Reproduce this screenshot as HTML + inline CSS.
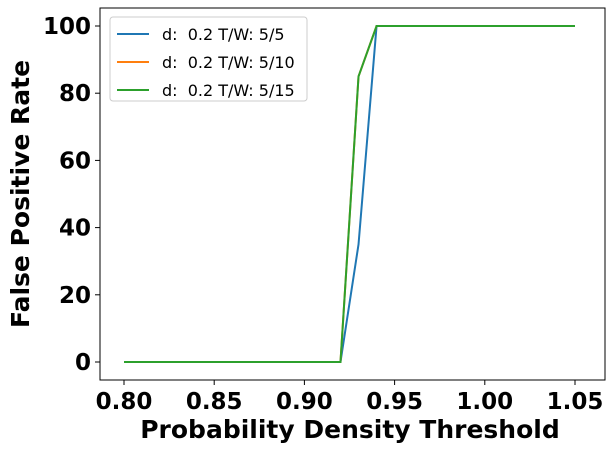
<!DOCTYPE html>
<html><head><meta charset="utf-8"><style>
body{margin:0;background:#fff;font-family:"DejaVu Sans","Liberation Sans",sans-serif}
text{white-space:pre}
</style></head><body>
<svg id="chart" width="616" height="452" xmlns="http://www.w3.org/2000/svg">
<rect x="100" y="8" width="505" height="372" fill="none" stroke="#000" stroke-width="1"/>
<g id="ticks"></g>
<g id="lines"></g>
<text x="350" y="438" text-anchor="middle" font-weight="bold" font-size="25">Probability Density Threshold</text>
<text transform="translate(29,194) rotate(-90)" text-anchor="middle" font-weight="bold" font-size="25">False Positive Rate</text>
<g id="legend">
<rect x="110" y="17" width="197" height="84" rx="3" fill="#fff" fill-opacity="0.8" stroke="#ccc"/>
</g>
</svg>
<script>
const xValues=[0.80,0.81,0.82,0.83,0.84,0.85,0.86,0.87,0.88,0.89,0.90,0.91,0.92,0.93,0.94,0.95,0.96,0.97,0.98,0.99,1.00,1.01,1.02,1.03,1.04,1.05];
const series5=[0,0,0,0,0,0,0,0,0,0,0,0,0,35,100,100,100,100,100,100,100,100,100,100,100,100];
const series10=[0,0,0,0,0,0,0,0,0,0,0,0,0,85,100,100,100,100,100,100,100,100,100,100,100,100];
const series15=[0,0,0,0,0,0,0,0,0,0,0,0,0,85,100,100,100,100,100,100,100,100,100,100,100,100];
const seriesNames=["d:  0.2 T/W: 5/5","d:  0.2 T/W: 5/10","d:  0.2 T/W: 5/15"];
const xTicks=[0.80,0.85,0.90,0.95,1.00,1.05];
const yTicks=[0,20,40,60,80,100];
const NS="http://www.w3.org/2000/svg";
const xs=v=>124+(v-0.80)/0.25*451;
const ys=v=>362-v*3.36;
const colors=["#1f77b4","#ff7f0e","#2ca02c"];
const tg=document.getElementById('ticks');
function mk(t,a,p){const e=document.createElementNS(NS,t);for(const k in a)e.setAttribute(k,a[k]);p.appendChild(e);return e;}
xTicks.forEach(v=>{
 const l=mk('line',{x1:xs(v),x2:xs(v),y1:380,y2:385,stroke:'#000'},tg);
 
 
 const t=mk('text',{x:xs(v),y:409,'text-anchor':'middle','font-size':23,'font-weight':'bold'},tg);
 t.textContent=v.toFixed(2);
 
 
});
yTicks.forEach(v=>{
 const l=mk('line',{x1:95,x2:100,y1:ys(v),y2:ys(v),stroke:'#000'},tg);
 
 
 const t=mk('text',{x:91,y:ys(v)+8,'text-anchor':'end','font-size':23,'font-weight':'bold'},tg);
 t.textContent=v;
 
 
});
const lg=document.getElementById('lines');
[series5,series10,series15].forEach((s,i)=>{
 const p=mk('polyline',{points:s.map((v,j)=>xs(xValues[j])+','+ys(v)).join(' '),fill:'none',stroke:colors[i],'stroke-width':2},lg);
 
 
});
const leg=document.getElementById('legend');
seriesNames.forEach((n,i)=>{
 const y=34+i*28;
 const l=mk('line',{x1:117,x2:149,y1:y,y2:y,stroke:colors[i],'stroke-width':2},leg);
 
 
 const t=mk('text',{x:162,y:y+6,'font-size':16},leg);
 t.textContent=n;
 
 
});
</script>
</body></html>
